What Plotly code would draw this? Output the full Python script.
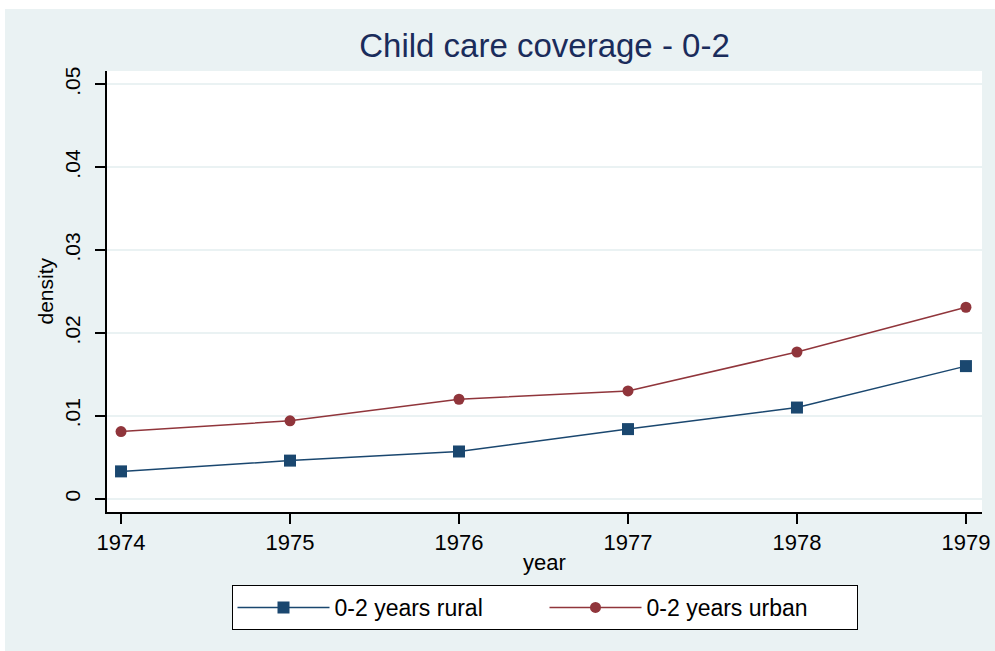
import plotly.graph_objects as go

years = [1974, 1975, 1976, 1977, 1978, 1979]
rural = [0.0033, 0.0046, 0.0057, 0.0084, 0.0110, 0.0160]
urban = [0.0081, 0.0094, 0.0120, 0.0130, 0.0177, 0.0231]
ytick_vals = [0, 0.01, 0.02, 0.03, 0.04, 0.05]
ytick_text = ["0", ".01", ".02", ".03", ".04", ".05"]

NAVY = "#1a476f"
MAROON = "#90353b"
BG = "#eaf2f3"
FONT = "Liberation Sans, Arial, sans-serif"

fig = go.Figure()
fig.add_trace(go.Scatter(
    x=years, y=rural, mode="lines+markers", name="0-2 years rural",
    line=dict(color=NAVY, width=1.5),
    marker=dict(symbol="square", size=12, color=NAVY),
))
fig.add_trace(go.Scatter(
    x=years, y=urban, mode="lines+markers", name="0-2 years urban",
    line=dict(color=MAROON, width=1.5),
    marker=dict(symbol="circle", size=11, color=MAROON),
))

fig.update_layout(
    width=995, height=651,
    margin=dict(l=107, r=13, t=71, b=139, autoexpand=False),
    paper_bgcolor=BG, plot_bgcolor="white",
    font=dict(family=FONT, color="black"),
    title=dict(text="Child care coverage - 0-2", x=0.5, xref="paper", xanchor="center",
               y=1 - 45 / 651, yanchor="middle",
               font=dict(size=33, color="#1a2c5b", family=FONT)),
    showlegend=True,
    legend=dict(orientation="h", x=0.5, xanchor="center", y=-(585 - 512) / 441, yanchor="top",
                bgcolor="white", bordercolor="black", borderwidth=1,
                font=dict(size=23, color="black"), itemwidth=92, entrywidth=205,
                tracegroupgap=0),
    xaxis=dict(range=[1973.917, 1979.095], tickvals=years, ticks="outside", ticklen=10,
               tickcolor="black", tickwidth=1.5, showline=True, linecolor="black", linewidth=1.5,
               showgrid=False, zeroline=False, automargin=False,
               tickfont=dict(size=22, color="black")),
    yaxis=dict(range=[-0.0016, 0.0516], tickvals=ytick_vals, ticktext=ytick_text,
               tickangle=-90, ticks="outside", ticklen=10, tickcolor="black", tickwidth=1.5,
               showline=True, linecolor="black", linewidth=1.5, automargin=False,
               ticklabelstandoff=7,
               showgrid=True, gridcolor=BG, gridwidth=1.5, zeroline=False,
               tickfont=dict(size=21, color="black")),
    annotations=[
        dict(text="year", xref="paper", yref="paper", x=0.5, y=-(562 - 512) / 441,
             xanchor="center", yanchor="middle", showarrow=False,
             font=dict(size=22, color="black")),
        dict(text="density", xref="paper", yref="paper", x=(45 - 107) / 875, y=0.5,
             xanchor="center", yanchor="middle", showarrow=False, textangle=-90,
             font=dict(size=21, color="black")),
    ],
    shapes=[
        dict(type="rect", xref="paper", yref="paper", x0=-0.2, x1=1.1,
             y0=(512 - 9) / 441, y1=1.3, fillcolor="white", line=dict(width=0), layer="below"),
        dict(type="rect", xref="paper", yref="paper", x0=-0.2, x1=(5 - 107) / 875,
             y0=-0.4, y1=1.3, fillcolor="white", line=dict(width=0), layer="below"),
    ],
)

fig.write_html("out.html", config={"displayModeBar": False},
               post_script="document.body.style.margin='0';")
